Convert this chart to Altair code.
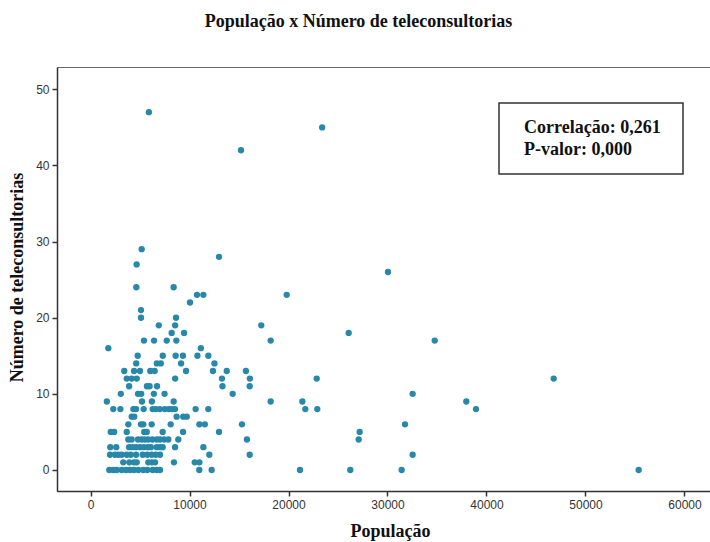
import altair as alt
import pandas as pd

# Number of teleconsultations (y) and the populations (x) observed at each count
counts = [0, 1, 2, 3, 4, 5, 6, 7, 8, 9, 10, 11, 12, 13, 14, 15, 16, 17, 18, 19,
          20, 21, 22, 23, 24, 26, 27, 28, 29, 42, 45, 47]
populations = [
    [1900, 2300, 2650, 3150, 3590, 3990, 4390, 4830, 5330, 5740, 6280, 6700, 7020, 10990, 12240, 21160, 26240, 31430, 55370],
    [3310, 3920, 4390, 4670, 5840, 6200, 6520, 8430, 10530, 11000],
    [1970, 2470, 2810, 3150, 3660, 4060, 4600, 5270, 5740, 6180, 6600, 7020, 12000, 16080, 32540],
    [2000, 2600, 3900, 4250, 4600, 5000, 5400, 5800, 6100, 6690, 7020, 7290, 8540, 11400],
    [3820, 4160, 4800, 5170, 5500, 5840, 6250, 6690, 7020, 7450, 7860, 8870, 15800, 27090],
    [2040, 2390, 3660, 5430, 5680, 7290, 9350, 12980, 27190],
    [3820, 5100, 5330, 6180, 8100, 11000, 11550, 15300, 31770],
    [4160, 4420, 8700, 9370, 9720],
    [2300, 3020, 4330, 4600, 5370, 6280, 6600, 7000, 7500, 7900, 8200, 8530, 10620, 11900, 21700, 22910, 38940],
    [1650, 5200, 6200, 8400, 18200, 21400, 37960],
    [3060, 4800, 5120, 6400, 7480, 14360, 32540],
    [3900, 5700, 5970, 6720, 13330, 16080],
    [3660, 4160, 4670, 8550, 13280, 16100, 22850, 46790],
    [3410, 4400, 5000, 6040, 6480, 9650, 12370, 13760, 15700],
    [4620, 6700, 7100, 9150, 12520],
    [4770, 7300, 8600, 9340, 10800, 11900],
    [1800, 11150],
    [5400, 6420, 7700, 8670, 18200, 34770],
    [8200, 9450, 26080],
    [6900, 8550, 17250],
    [5100, 8640],
    [5100],
    [10050],
    [10760, 11400, 19820],
    [4630, 8400],
    [30050],
    [4660],
    [12980],
    [5170],
    [15200],
    [23400],
    [5900],
]

x_ticks = [0, 10000, 20000, 30000, 40000, 50000, 60000]
y_ticks = [0, 10, 20, 30, 40, 50]
stats_lines = ["Correlação: 0,261", "P-valor: 0,000"]

rows = []
for c, pops in zip(counts, populations):
    for p in pops:
        rows.append({"populacao": p, "tele": c})
df = pd.DataFrame(rows)

W, H = 653, 424
SERIF = "Liberation Serif"
SANS = "Liberation Sans"

points = alt.Chart(df).mark_circle(size=40, color="#2888AA", opacity=1).encode(
    x=alt.X("populacao:Q",
            scale=alt.Scale(domain=[-3384, 62576], nice=False, zero=False),
            axis=alt.Axis(values=x_ticks, format="d", title="População", grid=False,
                          titleX=333, titlePadding=12)),
    y=alt.Y("tele:Q",
            scale=alt.Scale(domain=[-2.76, 52.93], nice=False, zero=False),
            axis=alt.Axis(values=y_ticks, format="d", title="Número de teleconsultorias",
                          grid=False, titleY=210, titlePadding=9)),
)

box = alt.Chart(pd.DataFrame({"k": [0]})).mark_rect(
    fill="white", stroke="#333333", strokeWidth=1.5
).encode(
    x=alt.value(442), x2=alt.value(626), y=alt.value(36), y2=alt.value(107)
)

stats_df = pd.DataFrame({"line": stats_lines, "yy": [66, 88]})
texts = alt.Chart(stats_df).mark_text(
    align="left", baseline="alphabetic", font=SERIF, fontSize=18,
    fontWeight="bold", color="#111111"
).encode(
    x=alt.value(467), y=alt.Y("yy:Q", scale=None), text="line:N"
)

chart = alt.layer(points, box, texts).properties(
    width=W, height=H,
    autosize=alt.AutoSizeParams(type="none"),
    padding={"left": 57, "top": 67, "right": 0, "bottom": 51},
    background="white",
    title=alt.TitleParams("População x Número de teleconsultorias", font=SERIF,
                          fontSize=18, fontWeight="bold", color="#111111",
                          anchor="middle", dx=-25, offset=36),
).configure_view(
    stroke="#666666", strokeWidth=1
).configure_axis(
    grid=False, labelFont=SANS, labelFontSize=12, labelColor="#333333",
    tickColor="#333333", tickSize=5, domainColor="#333333", domainWidth=1.5,
    tickWidth=1.5, titleFont=SERIF, titleFontSize=18, titleFontWeight="bold",
    titleColor="#111111", labelPadding=3
)

chart.save("out.html", embed_options={"renderer": "svg", "actions": False})
